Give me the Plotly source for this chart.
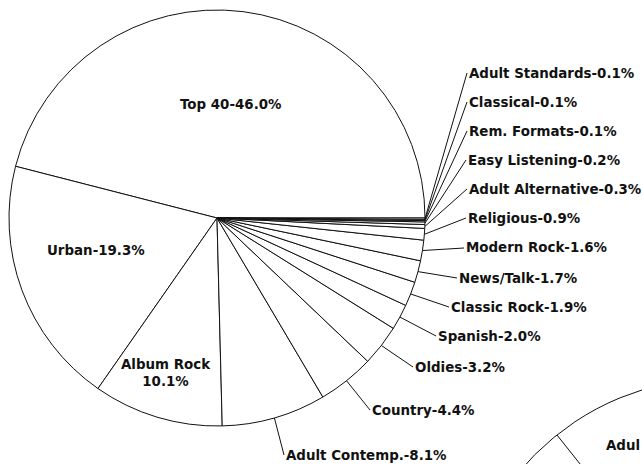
import math
import plotly.graph_objects as go

# Share of stations by radio format (percent)
formats = [
    "Top 40", "Urban", "Album Rock", "Adult Contemp.", "Country", "Oldies",
    "Spanish", "Classic Rock", "News/Talk", "Modern Rock", "Religious",
    "Adult Alternative", "Easy Listening", "Rem. Formats", "Classical",
    "Adult Standards",
]
shares = [46.0, 19.3, 10.1, 8.1, 4.4, 3.2, 2.0, 1.9, 1.7, 1.6, 0.9,
          0.3, 0.2, 0.1, 0.1, 0.1]

# Figure geometry in pixels
W, H = 642, 464
CX, CY, R = 217, 218, 208

# Labels drawn inside their slice: centre position (px)
inside_pos = {
    "Top 40": (230, 104),
    "Urban": (96, 250),
    "Album Rock": (166, 373),
}
# Labels drawn outside: left edge and vertical middle of the text (px)
outside_pos = {
    "Adult Contemp.": (284, 455),
    "Country": (370, 410),
    "Oldies": (413, 367),
    "Spanish": (436, 336),
    "Classic Rock": (449, 307),
    "News/Talk": (457, 278),
    "Modern Rock": (464, 248),
    "Religious": (466, 218),
    "Adult Alternative": (467, 189),
    "Easy Listening": (466, 160),
    "Rem. Formats": (467, 131),
    "Classical": (467, 102),
    "Adult Standards": (467, 73),
}

FONT = dict(family="DejaVu Sans", size=13.4, color="#111111", weight=700)


def px_to_paper(x, y):
    return x / W, 1 - y / H


total = sum(shares)
# First slice runs counterclockwise from 3 o'clock; plotly places slice 0
# clockwise from `rotation`, so start at the far edge of that slice.
start_rotation = 90 - 360 * shares[0] / total

fig = go.Figure()
fig.add_trace(go.Pie(
    labels=formats,
    values=shares,
    sort=False,
    direction="counterclockwise",
    rotation=start_rotation,
    textinfo="none",
    hoverinfo="label+percent",
    marker=dict(colors=["white"] * len(formats),
                line=dict(color="#111111", width=1)),
    domain=dict(x=[(CX - R) / W, (CX + R) / W],
                y=[1 - (CY + R) / H, 1 - (CY - R) / H]),
    showlegend=False,
))

annotations = []
shapes = []
cum = 0.0
for name, val in zip(formats, shares):
    mid = (cum + val / 2) / total * 2 * math.pi  # counterclockwise from east
    cum += val
    if name == "Album Rock":
        text = f"{name}<br>{val:.1f}%"
    else:
        text = f"{name}-{val:.1f}%"
    if name in inside_pos:
        x, y = px_to_paper(*inside_pos[name])
        annotations.append(dict(x=x, y=y, xref="paper", yref="paper",
                                text=text, showarrow=False, font=FONT,
                                xanchor="center", yanchor="middle",
                                align="center"))
        continue
    lx, ly = outside_pos[name]
    ex = CX + R * math.cos(mid)
    ey = CY - R * math.sin(mid)
    x0, y0 = px_to_paper(ex, ey)
    x1, y1 = px_to_paper(lx, ly)
    shapes.append(dict(type="line", xref="paper", yref="paper",
                       x0=x0, y0=y0, x1=x1, y1=y1,
                       line=dict(color="#111111", width=1)))
    annotations.append(dict(x=x1, y=y1, xref="paper", yref="paper",
                            text=text, showarrow=False, font=FONT,
                            xanchor="left", yanchor="middle"))

# Edge of the neighbouring pie at the lower right corner
C2X, C2Y, R2 = 720, 640, 262
shapes.append(dict(type="circle", xref="paper", yref="paper",
                   x0=(C2X - R2) / W, x1=(C2X + R2) / W,
                   y0=1 - (C2Y + R2) / H, y1=1 - (C2Y - R2) / H,
                   line=dict(color="#111111", width=1),
                   fillcolor="rgba(0,0,0,0)"))
bx, by = 557, 435
sx0, sy0 = px_to_paper(bx, by)
sx1, sy1 = px_to_paper(bx + (C2X - bx) * 0.25, by + (C2Y - by) * 0.25)
shapes.append(dict(type="line", xref="paper", yref="paper",
                   x0=sx0, y0=sy0, x1=sx1, y1=sy1,
                   line=dict(color="#111111", width=1)))
ax, ay = px_to_paper(604, 445)
annotations.append(dict(x=ax, y=ay, xref="paper", yref="paper",
                        text="Adul", showarrow=False, font=FONT,
                        xanchor="left", yanchor="middle"))

fig.update_layout(
    width=W, height=H,
    margin=dict(l=0, r=0, t=0, b=0),
    paper_bgcolor="white",
    plot_bgcolor="white",
    annotations=annotations,
    shapes=shapes,
)

fig.write_html("out.html")
